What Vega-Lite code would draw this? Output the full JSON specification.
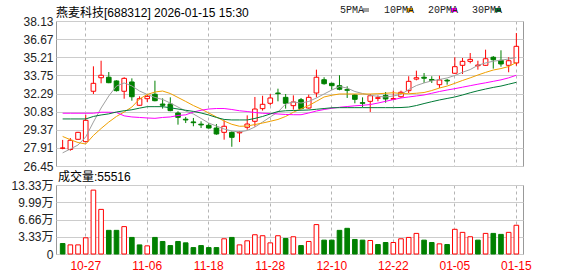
{
"$schema":"https://vega.github.io/schema/vega-lite/v6.json",
"background":"white",
"padding":{"left":5,"top":5,"right":5,"bottom":5},
"spacing":-3,
"config":{
 "view":{"stroke":"#999999","strokeWidth":1},
 "font":"Liberation Sans, Noto Sans CJK SC",
 "axis":{"labelFont":"Liberation Sans, Noto Sans CJK SC","labelFontSize":12,"labelColor":"#222222","labelOverlap":false},
 "title":{"font":"Liberation Sans, Noto Sans CJK SC","fontSize":12,"fontWeight":"normal","anchor":"start","color":"#000000","frame":"group"}
},
"datasets":{"k":[
{"date":"2025-10-22","open":27.88,"high":28.55,"low":27.80,"close":27.90,"vol":20200,"5PMA":27.51,"10PMA":28.83,"20PMA":30.70,"30PMA":30.24},
{"date":"2025-10-23","open":27.78,"high":28.70,"low":27.68,"close":28.52,"vol":17600,"5PMA":27.82,"10PMA":28.57,"20PMA":30.70,"30PMA":30.24},
{"date":"2025-10-24","open":28.60,"high":29.20,"low":28.58,"close":29.16,"vol":17600,"5PMA":28.14,"10PMA":28.34,"20PMA":30.70,"30PMA":30.24},
{"date":"2025-10-27","open":28.41,"high":30.58,"low":28.38,"close":30.13,"vol":31300,"5PMA":28.79,"10PMA":28.22,"20PMA":30.70,"30PMA":30.24},
{"date":"2025-10-28","open":32.47,"high":34.48,"low":32.25,"close":33.11,"vol":123400,"5PMA":29.99,"10PMA":28.91,"20PMA":30.70,"30PMA":30.44},
{"date":"2025-10-29","open":33.56,"high":34.93,"low":33.11,"close":33.76,"vol":86200,"5PMA":31.12,"10PMA":29.47,"20PMA":30.78,"30PMA":30.56},
{"date":"2025-10-30","open":33.60,"high":34.02,"low":33.12,"close":33.16,"vol":45700,"5PMA":32.09,"10PMA":29.99,"20PMA":30.78,"30PMA":30.65},
{"date":"2025-10-31","open":33.30,"high":33.35,"low":32.45,"close":32.52,"vol":45700,"5PMA":32.89,"10PMA":30.44,"20PMA":30.76,"30PMA":30.80},
{"date":"2025-11-03","open":32.47,"high":33.60,"low":31.87,"close":33.51,"vol":52900,"5PMA":33.14,"10PMA":30.80,"20PMA":30.49,"30PMA":30.90},
{"date":"2025-11-04","open":33.22,"high":33.51,"low":31.71,"close":32.03,"vol":32000,"5PMA":32.90,"10PMA":31.20,"20PMA":30.40,"30PMA":30.98},
{"date":"2025-11-05","open":31.34,"high":32.06,"low":31.30,"close":31.87,"vol":17600,"5PMA":32.49,"10PMA":31.85,"20PMA":30.36,"30PMA":31.11},
{"date":"2025-11-06","open":31.87,"high":32.25,"low":31.61,"close":32.06,"vol":15700,"5PMA":32.21,"10PMA":32.21,"20PMA":30.32,"30PMA":31.23},
{"date":"2025-11-07","open":32.23,"high":33.32,"low":31.66,"close":31.71,"vol":32000,"5PMA":31.97,"10PMA":32.41,"20PMA":30.29,"30PMA":31.23},
{"date":"2025-11-10","open":31.44,"high":31.90,"low":31.07,"close":31.34,"vol":24200,"5PMA":31.81,"10PMA":32.49,"20PMA":30.36,"30PMA":31.23},
{"date":"2025-11-11","open":31.44,"high":31.98,"low":30.86,"close":30.91,"vol":16300,"5PMA":31.52,"10PMA":32.29,"20PMA":30.40,"30PMA":31.14},
{"date":"2025-11-12","open":30.72,"high":30.86,"low":29.78,"close":30.37,"vol":24200,"5PMA":31.20,"10PMA":31.97,"20PMA":30.52,"30PMA":31.04},
{"date":"2025-11-13","open":30.22,"high":30.40,"low":29.91,"close":30.16,"vol":21500,"5PMA":30.88,"10PMA":31.65,"20PMA":30.57,"30PMA":30.94},
{"date":"2025-11-14","open":30.00,"high":30.32,"low":29.65,"close":29.94,"vol":12400,"5PMA":30.64,"10PMA":31.32,"20PMA":30.80,"30PMA":30.85},
{"date":"2025-11-17","open":29.82,"high":30.05,"low":29.51,"close":29.76,"vol":16300,"5PMA":30.28,"10PMA":31.04,"20PMA":30.94,"30PMA":30.72},
{"date":"2025-11-18","open":29.73,"high":29.90,"low":29.45,"close":29.51,"vol":12400,"5PMA":29.91,"10PMA":30.72,"20PMA":31.04,"30PMA":30.56},
{"date":"2025-11-19","open":29.51,"high":29.83,"low":28.97,"close":29.03,"vol":12400,"5PMA":29.67,"10PMA":30.40,"20PMA":31.08,"30PMA":30.36},
{"date":"2025-11-20","open":29.16,"high":30.13,"low":28.57,"close":29.65,"vol":29400,"5PMA":29.43,"10PMA":30.07,"20PMA":31.08,"30PMA":30.20},
{"date":"2025-11-21","open":29.16,"high":29.24,"low":28.00,"close":28.76,"vol":32000,"5PMA":29.27,"10PMA":29.81,"20PMA":31.00,"30PMA":30.16},
{"date":"2025-11-24","open":29.12,"high":29.24,"low":28.38,"close":29.18,"vol":17600,"5PMA":29.19,"10PMA":29.65,"20PMA":30.90,"30PMA":30.16},
{"date":"2025-11-25","open":29.57,"high":30.53,"low":29.37,"close":29.83,"vol":25500,"5PMA":29.31,"10PMA":29.67,"20PMA":30.84,"30PMA":30.16},
{"date":"2025-11-26","open":30.05,"high":32.01,"low":29.62,"close":31.04,"vol":37200,"5PMA":29.59,"10PMA":29.79,"20PMA":30.76,"30PMA":30.28},
{"date":"2025-11-27","open":31.07,"high":32.11,"low":30.91,"close":31.42,"vol":35300,"5PMA":29.99,"10PMA":29.91,"20PMA":30.70,"30PMA":30.44},
{"date":"2025-11-28","open":31.50,"high":32.25,"low":31.34,"close":31.93,"vol":21500,"5PMA":30.40,"10PMA":30.05,"20PMA":30.68,"30PMA":30.64},
{"date":"2025-12-01","open":32.33,"high":32.68,"low":31.66,"close":32.28,"vol":35300,"5PMA":30.80,"10PMA":30.20,"20PMA":30.64,"30PMA":30.84},
{"date":"2025-12-02","open":31.98,"high":32.25,"low":31.07,"close":31.50,"vol":30000,"5PMA":31.44,"10PMA":30.44,"20PMA":30.60,"30PMA":30.90},
{"date":"2025-12-03","open":31.31,"high":32.14,"low":30.99,"close":31.61,"vol":33300,"5PMA":31.61,"10PMA":30.78,"20PMA":30.58,"30PMA":30.92},
{"date":"2025-12-04","open":31.79,"high":31.93,"low":31.02,"close":31.07,"vol":16300,"5PMA":31.52,"10PMA":31.06,"20PMA":30.58,"30PMA":30.94},
{"date":"2025-12-05","open":31.12,"high":32.20,"low":31.07,"close":31.98,"vol":24200,"5PMA":31.65,"10PMA":31.32,"20PMA":30.72,"30PMA":30.96},
{"date":"2025-12-08","open":32.33,"high":34.21,"low":31.98,"close":33.60,"vol":56800,"5PMA":31.93,"10PMA":31.66,"20PMA":30.88,"30PMA":31.02},
{"date":"2025-12-09","open":33.40,"high":33.60,"low":33.00,"close":33.08,"vol":26800,"5PMA":32.25,"10PMA":32.01,"20PMA":31.00,"30PMA":31.08},
{"date":"2025-12-10","open":33.11,"high":33.15,"low":32.60,"close":32.92,"vol":26800,"5PMA":32.57,"10PMA":32.15,"20PMA":31.10,"30PMA":31.14},
{"date":"2025-12-11","open":32.92,"high":33.76,"low":32.55,"close":32.63,"vol":45700,"5PMA":32.85,"10PMA":32.25,"20PMA":31.18,"30PMA":31.15},
{"date":"2025-12-12","open":32.60,"high":32.87,"low":31.93,"close":32.55,"vol":49600,"5PMA":32.73,"10PMA":32.25,"20PMA":31.24,"30PMA":31.15},
{"date":"2025-12-15","open":32.17,"high":32.23,"low":31.50,"close":31.82,"vol":28100,"5PMA":32.45,"10PMA":32.25,"20PMA":31.30,"30PMA":31.15},
{"date":"2025-12-16","open":31.55,"high":31.98,"low":31.18,"close":31.50,"vol":26800,"5PMA":32.29,"10PMA":32.25,"20PMA":31.34,"30PMA":31.15},
{"date":"2025-12-17","open":31.66,"high":32.25,"low":30.80,"close":32.11,"vol":26100,"5PMA":32.15,"10PMA":32.25,"20PMA":31.40,"30PMA":31.15},
{"date":"2025-12-18","open":31.90,"high":32.14,"low":31.66,"close":31.95,"vol":18300,"5PMA":32.06,"10PMA":32.27,"20PMA":31.52,"30PMA":31.15},
{"date":"2025-12-19","open":32.14,"high":32.41,"low":31.55,"close":31.85,"vol":22200,"5PMA":32.01,"10PMA":32.31,"20PMA":31.66,"30PMA":31.15},
{"date":"2025-12-22","open":31.83,"high":32.52,"low":31.80,"close":31.88,"vol":22200,"5PMA":32.09,"10PMA":32.35,"20PMA":31.80,"30PMA":31.15},
{"date":"2025-12-23","open":32.03,"high":32.52,"low":31.93,"close":32.39,"vol":29400,"5PMA":32.21,"10PMA":32.29,"20PMA":31.93,"30PMA":31.16},
{"date":"2025-12-24","open":32.52,"high":33.68,"low":32.33,"close":33.27,"vol":32000,"5PMA":32.61,"10PMA":32.27,"20PMA":32.01,"30PMA":31.20},
{"date":"2025-12-25","open":33.45,"high":34.13,"low":33.35,"close":33.56,"vol":39800,"5PMA":32.93,"10PMA":32.31,"20PMA":32.09,"30PMA":31.32},
{"date":"2025-12-26","open":33.60,"high":33.94,"low":33.14,"close":33.52,"vol":26800,"5PMA":33.14,"10PMA":32.37,"20PMA":32.17,"30PMA":31.48},
{"date":"2025-12-29","open":33.42,"high":33.68,"low":33.14,"close":33.35,"vol":22200,"5PMA":33.31,"10PMA":32.53,"20PMA":32.31,"30PMA":31.63},
{"date":"2025-12-30","open":33.00,"high":33.72,"low":32.73,"close":33.38,"vol":19600,"5PMA":33.42,"10PMA":32.73,"20PMA":32.45,"30PMA":31.77},
{"date":"2025-12-31","open":33.36,"high":33.46,"low":33.00,"close":33.30,"vol":18300,"5PMA":33.54,"10PMA":32.89,"20PMA":32.57,"30PMA":31.89},
{"date":"2026-01-05","open":33.92,"high":35.21,"low":33.86,"close":34.45,"vol":47700,"5PMA":33.74,"10PMA":33.11,"20PMA":32.68,"30PMA":32.01},
{"date":"2026-01-06","open":34.56,"high":35.15,"low":33.86,"close":34.88,"vol":41800,"5PMA":34.00,"10PMA":33.34,"20PMA":32.80,"30PMA":32.17},
{"date":"2026-01-07","open":34.88,"high":35.55,"low":34.72,"close":35.04,"vol":33300,"5PMA":34.22,"10PMA":33.55,"20PMA":32.92,"30PMA":32.35},
{"date":"2026-01-08","open":34.53,"high":34.93,"low":34.21,"close":34.58,"vol":26800,"5PMA":34.56,"10PMA":33.78,"20PMA":33.04,"30PMA":32.51},
{"date":"2026-01-09","open":34.56,"high":35.82,"low":34.53,"close":35.09,"vol":39800,"5PMA":34.75,"10PMA":33.99,"20PMA":33.15,"30PMA":32.65},
{"date":"2026-01-12","open":35.21,"high":35.31,"low":34.29,"close":35.01,"vol":39800,"5PMA":34.89,"10PMA":34.18,"20PMA":33.27,"30PMA":32.78},
{"date":"2026-01-13","open":34.96,"high":35.77,"low":34.45,"close":34.67,"vol":37900,"5PMA":34.97,"10PMA":34.30,"20PMA":33.39,"30PMA":32.89},
{"date":"2026-01-14","open":34.56,"high":35.21,"low":34.00,"close":34.93,"vol":41800,"5PMA":35.07,"10PMA":34.46,"20PMA":33.55,"30PMA":33.04},
{"date":"2026-01-15","open":34.75,"high":37.16,"low":34.53,"close":36.09,"vol":55516,"5PMA":35.19,"10PMA":34.79,"20PMA":33.76,"30PMA":33.19}
]},
"resolve":{"scale":{"x":"independent","y":"independent","color":"shared"},"legend":{"color":"shared"}},
"vconcat":[
 {
  "width":467,"height":145,
  "title":{"text":"燕麦科技[688312] 2026-01-15 15:30","offset":-5},
  "data":{"name":"k"},
  "encoding":{
   "x":{"field":"date","type":"ordinal","sort":null,
        "scale":{"type":"band","paddingInner":0.4,"paddingOuter":0.565},
        "axis":{"values":["2025-10-27","2025-11-06","2025-11-18","2025-11-28","2025-12-10","2025-12-22","2026-01-05","2026-01-15"],
                "labels":false,"ticks":false,"domain":false,"title":null,"grid":true,"gridDash":[3,3],"gridColor":"#b4b4b4","bandPosition":0.5,"minExtent":0,"maxExtent":0}}
  },
  "layer":[
   {"mark":{"type":"rule","strokeWidth":1},
    "encoding":{
     "y":{"field":"low","type":"quantitative","scale":{"domain":[26.45,38.13],"nice":false,"zero":false},
          "axis":{"values":[26.45,27.91,29.37,30.83,32.29,33.75,35.21,36.67,38.13],"format":".2f","ticks":false,"domain":false,"labelPadding":3,"labelOverlap":false,"title":null,"gridColor":"#cccccc","minExtent":50,"maxExtent":50}},
     "y2":{"field":"high"},
     "color":{"condition":{"test":"datum.close >= datum.open","value":"#ff0000"},"value":"#008000"}
    }},
   {"mark":{"type":"bar","strokeWidth":1},
    "encoding":{
     "y":{"field":"open","type":"quantitative",
          "axis":{"values":[26.45,27.91,29.37,30.83,32.29,33.75,35.21,36.67,38.13],"format":".2f","ticks":false,"domain":false,"labelPadding":3,"labelOverlap":false,"title":null,"gridColor":"#cccccc","minExtent":50,"maxExtent":50}},
     "y2":{"field":"close"},
     "fill":{"condition":{"test":"datum.close >= datum.open","value":"#ffffff"},"value":"#008000"},
     "stroke":{"condition":{"test":"datum.close >= datum.open","value":"#ff0000"},"value":"#008000"}
    }},
   {"transform":[{"fold":["5PMA","10PMA","20PMA","30PMA"],"as":["ma","val"]}],
    "mark":{"type":"line","strokeWidth":1},
    "encoding":{
     "y":{"field":"val","type":"quantitative",
          "axis":{"values":[26.45,27.91,29.37,30.83,32.29,33.75,35.21,36.67,38.13],"format":".2f","ticks":false,"domain":false,"labelPadding":3,"labelOverlap":false,"title":null,"gridColor":"#cccccc","minExtent":50,"maxExtent":50}},
     "color":{"field":"ma","type":"nominal",
       "scale":{"domain":["5PMA","10PMA","20PMA","30PMA"],"range":["#a0a0a0","#f0a000","#ff00ff","#007a36"]},
       "legend":{"orient":"none","legendX":285,"legendY":-16,"direction":"horizontal","columns":4,"title":null,
                 "symbolType":"stroke","symbolStrokeWidth":4,"symbolSize":36,"symbolOffset":20,
                 "labelAlign":"left","labelOffset":-31,"labelFont":"Liberation Mono","labelFontSize":10,"labelColor":"#222222",
                 "columnPadding":7,"padding":0}}
    }}
  ]
 },
 {
  "width":467,"height":69,
  "title":{"text":"成交量:55516","offset":-5,"dx":2},
  "data":{"name":"k"},
  "transform":[{"window":[{"op":"lag","field":"close","as":"prevClose"}],"sort":[{"field":"date"}]}],
  "mark":{"type":"bar","strokeWidth":1},
  "encoding":{
   "x":{"field":"date","type":"ordinal","sort":null,
        "scale":{"type":"band","paddingInner":0.4,"paddingOuter":0.565},
        "axis":{"values":["2025-10-27","2025-11-06","2025-11-18","2025-11-28","2025-12-10","2025-12-22","2026-01-05","2026-01-15"],
                "labelExpr":"slice(datum.value, 5)","labelColor":"#ff0000","labelAngle":0,"labelPadding":6,
                "ticks":false,"domain":false,"title":null,"grid":true,"gridDash":[3,3],"gridColor":"#b4b4b4","bandPosition":0.5}},
   "y":{"field":"vol","type":"quantitative","scale":{"domain":[0,133300],"nice":false},
        "axis":{"values":[0,33300,66600,99900,133300],"labelExpr":"datum.value == 0 ? '0' : format(datum.value/10000, '.2f') + '万'",
                "ticks":false,"domain":false,"labelPadding":3,"labelOverlap":false,"title":null,"gridColor":"#cccccc","minExtent":50,"maxExtent":50}},
   "fill":{"condition":{"test":"isValid(datum.prevClose) && datum.close >= datum.prevClose","value":"#ffffff"},"value":"#008000"},
   "stroke":{"condition":{"test":"isValid(datum.prevClose) && datum.close >= datum.prevClose","value":"#ff0000"},"value":"#008000"}
  }
 }
]
}
